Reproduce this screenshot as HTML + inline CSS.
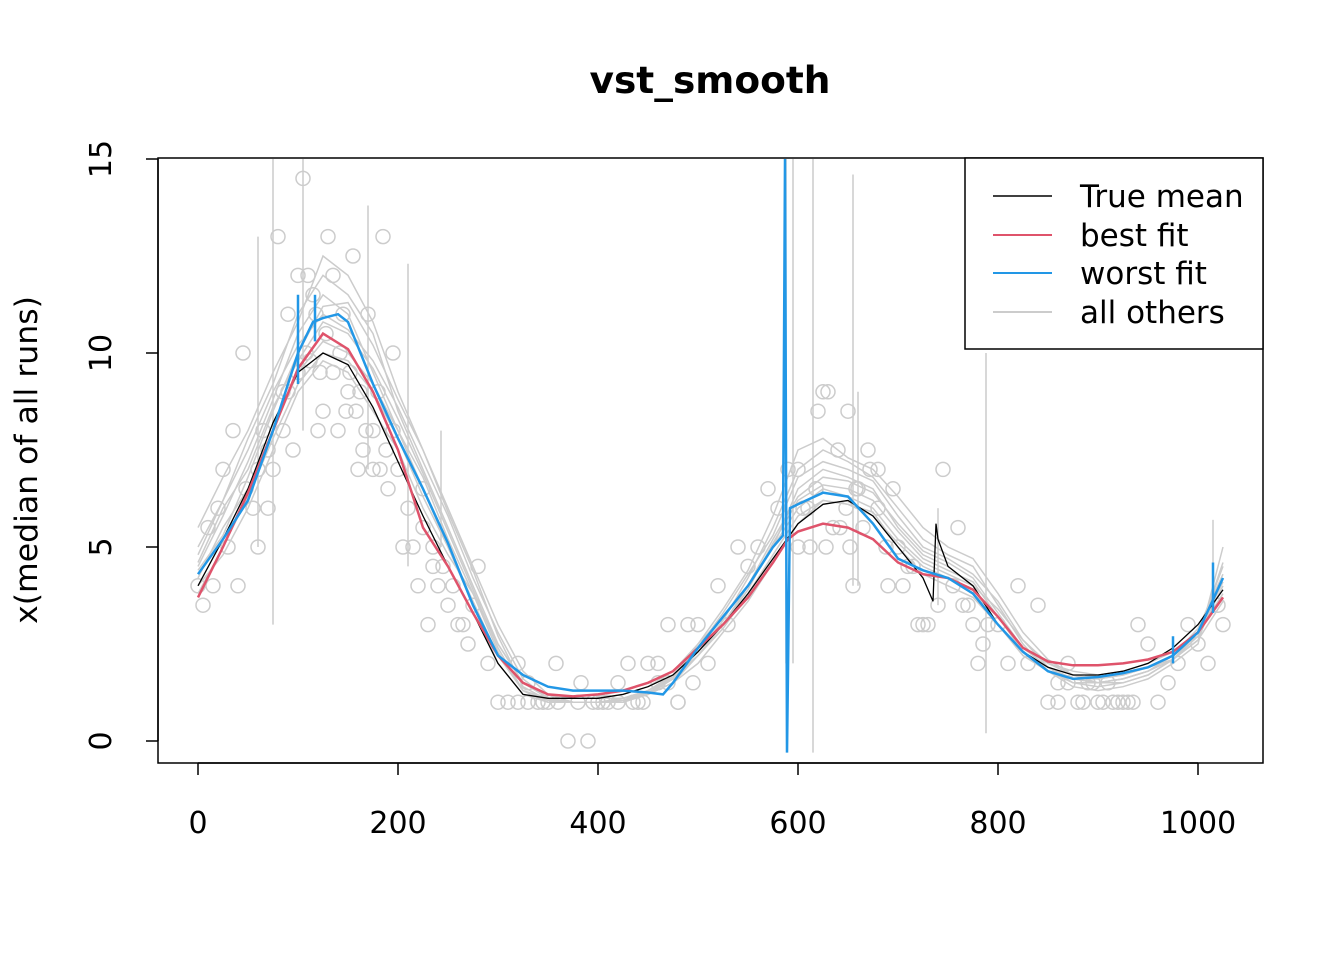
<!DOCTYPE html>
<html><head><meta charset="utf-8"><title>vst_smooth</title>
<style>
body{margin:0;background:#fff;}
svg text{font-family:"DejaVu Sans","Liberation Sans",sans-serif;}
</style></head>
<body>
<svg id="chart" width="1344" height="960" xmlns="http://www.w3.org/2000/svg">
<rect width="1344" height="960" fill="#fff"/>
<text x="710" y="93" text-anchor="middle" font-size="37.5" font-weight="bold">vst_smooth</text>
<text transform="translate(37,460) rotate(-90)" text-anchor="middle" font-size="31.5">x(median of all runs)</text>
<g id="marks"></g>
<g id="axes"></g>
<rect x="158" y="158" width="1105" height="605" fill="none" stroke="#000" stroke-width="1.5"/>
<g>
<rect x="965" y="158" width="298" height="191" fill="#fff" stroke="#000" stroke-width="1.5"/>
<line x1="993" y1="196" x2="1052" y2="196" stroke="#000" stroke-width="1.5"/>
<text x="1080" y="207" font-size="31">True mean</text>
<line x1="993" y1="235" x2="1052" y2="235" stroke="#DF536B" stroke-width="2"/>
<text x="1080" y="246" font-size="31">best fit</text>
<line x1="993" y1="273" x2="1052" y2="273" stroke="#2297E6" stroke-width="2"/>
<text x="1080" y="284" font-size="31">worst fit</text>
<line x1="993" y1="312" x2="1052" y2="312" stroke="#CCCCCC" stroke-width="2"/>
<text x="1080" y="323" font-size="31">all others</text>
</g>
</svg>
<script>
const xTicks=[0,200,400,600,800,1000];
const yTicks=[0,5,10,15];
const gridX=[0,25,50,75,100,125,150,175,200,225,250,275,300,325,350,375,400,425,450,475,500,525,550,575,600,625,650,675,700,725,750,775,800,825,850,875,900,925,950,975,1000,1025];
const gray1=[4.5,5.8,7.2,8.8,10.5,11.5,11,9.5,8,6.5,5,3.5,2,1.2,1,1,1,1,1.2,1.5,2.2,3,4,5,6.5,7,6.8,6.5,5.5,4.8,4.5,4,3,2.2,1.8,1.5,1.5,1.6,1.8,2.2,2.8,4.5];
const gray2=[4,4.8,6,7.5,9,9.8,9.5,8.5,7.5,6,4.8,3.8,2.5,1.5,1.2,1.1,1.1,1.2,1.4,1.8,2.5,3.2,4,5,6,6.5,6.3,6,5.2,4.6,4.3,4,3.4,2.6,2,1.7,1.6,1.7,1.9,2.1,2.6,3.6];
const gray3=[5,6.2,7.8,9.2,11,12,11.5,10.5,8.5,7,5.5,4,2.5,1.5,1.1,1,1,1,1.3,1.7,2.3,3.1,4.2,5.5,7,7.5,7.2,6.8,6,5.2,4.8,4.5,3.5,2.5,1.8,1.4,1.3,1.4,1.6,2,2.5,5];
const gray4=[4.2,5.5,6.5,8,9.5,10.3,10,9.2,8,6.8,5.2,3.8,2.3,1.3,1.1,1.1,1.1,1.1,1.3,1.6,2.2,2.9,3.8,4.8,5.8,6.2,6.1,5.8,5.1,4.5,4.2,3.8,3.2,2.4,2,1.8,1.7,1.8,2,2.3,2.7,4];
const gray5=[5.5,6.8,8,9.5,10.8,12.5,12,10.8,9,7.5,6,4.5,3,1.8,1.2,1,1,1,1.2,1.6,2.5,3.4,4.4,5.8,7.5,7.8,7.3,7,6.3,5.5,5,4.7,3.8,2.8,2.1,1.7,1.5,1.5,1.7,2.1,2.6,4.2];
const gray6=[3.8,5,6.3,7.8,9.2,10,9.8,9,7.8,6.3,5,3.6,2.2,1.3,1,1,1,1.05,1.2,1.5,2,2.8,3.6,4.6,5.6,6.2,6.1,5.9,5,4.3,4,3.7,3,2.2,1.8,1.6,1.5,1.6,1.8,2.1,2.8,3.8];
const gray7=[4.8,6.2,7.5,9,10.2,11,10.6,9.8,8.6,7.2,5.8,4.2,2.8,1.6,1.1,1,1,1.1,1.3,1.7,2.4,3.3,4.3,5.3,6.8,7.2,7,6.7,5.8,5,4.7,4.3,3.6,2.6,1.9,1.5,1.4,1.5,1.7,2.1,2.7,4.6];
const gray8=[4.4,5.3,6.8,8.5,10,11.2,11.3,10.2,8.8,7.5,5.9,4.4,2.7,1.4,1.05,1,1,1.05,1.25,1.6,2.3,3,4,5.2,6.3,6.8,6.7,6.4,5.6,4.9,4.6,4.2,3.3,2.4,1.9,1.6,1.5,1.6,1.8,2.2,2.9,4.3];
const gray9=[4.6,6,7,8.6,9.8,10.8,10.5,9.6,8.3,6.9,5.4,3.9,2.4,1.3,1.05,1,1,1.05,1.3,1.65,2.2,3,3.9,5.1,6.2,6.6,6.5,6.2,5.4,4.7,4.4,4.1,3.2,2.3,1.9,1.6,1.6,1.7,1.9,2.2,2.8,4.1];
const spikeX=[60,75,105,170,210,243,588,595,615,655,660,740,788,1015];
const spikeLo=[5,3,8,7,4.5,5,2,2,-0.3,4,4,3.5,0.2,3.5];
const spikeHi=[13,15,15,13.8,12.3,8,15,15,15,14.6,9,6,10,5.7];
const ptX=[0,5,10,15,20,25,30,35,40,45,48,55,60,65,70,75,80,85,90,95,100,105,110,115,120,125,130,135,140,145,150,155,160,165,170,175,180,185,190,195,200,205,210,215,220,225,230,235,240,250,255,260,270,280,290,300,310,320,330,340,350,358,370,383,390,400,410,420,430,440,450,460,470,480,490,500,510,520,530,540,550,560,570,580,590,600,610,620,625,630,640,650,655,660,670,680,690,700,710,720,730,740,745,760,765,770,780,790,800,810,820,830,840,850,860,870,880,890,900,910,920,930,940,950,960,970,980,990,1000,1010,1020,1025];
const ptY=[4,3.5,5.5,4,6,7,5,8,4,10,6.5,6,5,8,6,7,13,9,11,7.5,12,14.5,12,11.5,8,8.5,13,12,8,11,9,12.5,7,7.5,11,7,9,13,6.5,10,7,5,6,5,4,6.5,3,5,4,3.5,4,3,2.5,4.5,2,1,1,2,1.5,1,1,2,0,1.5,0,1,1,1.5,2,1,2,1.5,3,1,3,3,2,4,3,5,4.5,5,6.5,6,7,7,6,8.5,9,9,7.5,8.5,4,6.5,7.5,7,4,5,4.5,3,3,3.5,7,5.5,3.5,3.5,2,3,3,2,4,2,3.5,1,1.5,2,1,1.5,1,1.5,1,1,3,2.5,1,1.5,2,3,2.5,2,3.5,3,4,4.5];
const ptX2=[100,108,112,118,122,128,135,142,148,152,158,162,168,175,182,188,195,600,605,612,618,628,635,642,648,652,658,665,672,680,688,695,860,870,885,895,905,915,925,935,320,330,345,360,380,395,405,420,435,445,460,470,480,495,60,70,85,90,225,235,245,265,275,705,715,725,755,775,785];
const ptY2=[9.5,10,9.8,11,9.5,10.5,9.5,10,8.5,9.5,8.5,9,8,8,7,7.5,8,5,6,5,6.5,5,5.5,5.5,6,5,6.5,5.5,7,6,5,6.5,1,1.5,1,1.5,1,1,1,1,1,1,1,1,1,1,1,1,1,1,2,1.5,1,1.5,7,7.5,8,9,5.5,4.5,4.5,3,3.5,4,4.5,3,4,3,2.5];
const meanX=[0,25,50,75,100,125,150,175,200,225,250,275,300,325,350,375,400,425,450,475,500,525,550,575,600,625,650,675,700,725,735,738,740,750,775,800,825,850,875,900,925,950,975,1000,1025];
const meanY=[4,5.2,6.5,8.2,9.5,10,9.7,8.6,7.2,5.8,4.5,3.3,2,1.2,1.1,1.1,1.1,1.2,1.4,1.7,2.3,3,3.8,4.7,5.6,6.1,6.2,5.8,5,4.2,3.6,5.6,5.2,4.5,4,3,2.3,1.9,1.7,1.7,1.8,2,2.4,3,3.9];
const bestX=[0,25,50,75,100,125,150,175,200,225,250,275,300,325,350,375,400,425,450,475,500,525,550,575,590,600,625,650,675,700,725,750,775,800,825,850,875,900,925,950,975,1000,1025];
const bestY=[3.7,5,6.4,8,9.6,10.5,10.1,9,7.5,5.5,4.5,3.3,2.2,1.5,1.2,1.15,1.2,1.3,1.5,1.8,2.4,3,3.7,4.6,5.2,5.4,5.6,5.5,5.2,4.6,4.3,4.2,3.9,3.2,2.4,2.05,1.95,1.95,2,2.1,2.3,2.8,3.7];
const worstX=[0,25,50,75,100,115,125,140,150,175,200,225,250,275,300,325,350,375,400,425,450,465,475,500,525,550,575,585,587,589,592,600,625,650,675,700,725,750,775,800,825,850,875,900,925,950,975,1000,1025];
const worstY=[4.3,5.2,6.2,8,10,10.8,10.9,11,10.8,9.2,7.8,6.5,5.1,3.5,2.2,1.7,1.4,1.3,1.3,1.3,1.25,1.2,1.5,2.4,3.2,4,5,5.3,15,-0.3,6,6.1,6.4,6.3,5.6,4.7,4.4,4.2,3.8,3,2.3,1.8,1.6,1.65,1.75,1.9,2.2,2.8,4.2];
const worstTicX=[100,117,975,1015];
const worstTicLo=[9.2,10.3,2,3.3];
const worstTicHi=[11.5,11.5,2.7,4.6];

const X=v=>198+v*1.0;
const Y=v=>741-v*38.8;
const NS="http://www.w3.org/2000/svg";
const marks=document.getElementById('marks');
const axes=document.getElementById('axes');
function mk(tag,attrs,parent){const e=document.createElementNS(NS,tag);for(const k in attrs)e.setAttribute(k,attrs[k]);parent.appendChild(e);return e;}
function pathOf(xs,ys){return xs.map((x,i)=>(i?'L':'M')+X(x).toFixed(1)+','+Y(ys[i]).toFixed(1)).join(' ');}
const clip=mk('clipPath',{id:'pc'},marks);mk('rect',{x:158,y:158,width:1105,height:605},clip);
const g=mk('g',{'clip-path':'url(#pc)'},marks);

[[ptX,ptY],[ptX2,ptY2]].forEach(([xs,ys])=>{xs.forEach((x,i)=>{const c=mk('circle',{cx:X(x),cy:Y(ys[i]),r:7,fill:'none',stroke:'#CCCCCC','stroke-width':1.5},g);

});});
[gray1,gray2,gray3,gray4,gray5,gray6,gray7,gray8,gray9].forEach((arr,i)=>{const p=mk('path',{d:pathOf(gridX,arr),fill:'none',stroke:'#CCCCCC','stroke-width':1.5},g);

});
spikeX.forEach((x,i)=>{const l=mk('line',{x1:X(x),x2:X(x),y1:Y(spikeLo[i]),y2:Y(spikeHi[i]),stroke:'#CCCCCC','stroke-width':1.5},g);

});
const pm=mk('path',{d:pathOf(meanX,meanY),fill:'none',stroke:'#000','stroke-width':1.3},g);


const pb=mk('path',{d:pathOf(bestX,bestY),fill:'none',stroke:'#DF536B','stroke-width':2.5},g);


const pw=mk('path',{d:pathOf(worstX,worstY),fill:'none',stroke:'#2297E6','stroke-width':2.5},g);


worstTicX.forEach((x,i)=>{const l=mk('line',{x1:X(x),x2:X(x),y1:Y(worstTicLo[i]),y2:Y(worstTicHi[i]),stroke:'#2297E6','stroke-width':2.5},g);

});

mk('line',{x1:X(xTicks[0]),x2:X(xTicks[xTicks.length-1]),y1:763,y2:763,stroke:'#000','stroke-width':1.5},axes);
xTicks.forEach(t=>{mk('line',{x1:X(t),x2:X(t),y1:763,y2:775,stroke:'#000','stroke-width':1.5},axes);
const tx=mk('text',{x:X(t),y:833,'text-anchor':'middle','font-size':30},axes);tx.textContent=t;

});
mk('line',{x1:158,x2:158,y1:Y(yTicks[0]),y2:Y(yTicks[yTicks.length-1]),stroke:'#000','stroke-width':1.5},axes);
yTicks.forEach(t=>{mk('line',{x1:146,x2:158,y1:Y(t),y2:Y(t),stroke:'#000','stroke-width':1.5},axes);
const tx=mk('text',{transform:`translate(111,${Y(t)}) rotate(-90)`,'text-anchor':'middle','font-size':30},axes);tx.textContent=t;

});
</script>
</body></html>
